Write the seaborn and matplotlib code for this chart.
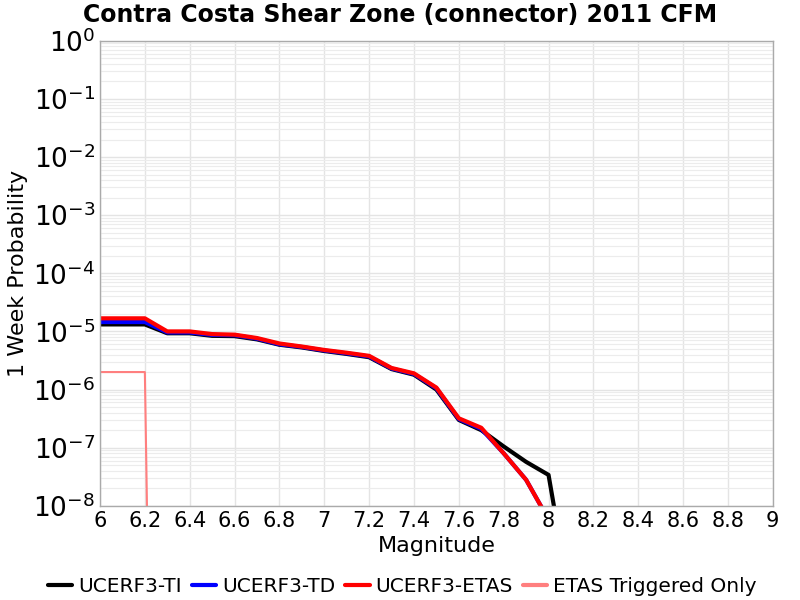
import numpy as np
import pandas as pd
import matplotlib
matplotlib.use("Agg")
import matplotlib.pyplot as plt
import matplotlib.ticker as mticker
import seaborn as sns

# magnitudes (bin centres)
mags = [6.0, 6.1, 6.2, 6.3, 6.4, 6.5, 6.6, 6.7, 6.8, 6.9, 7.0, 7.1, 7.2,
        7.3, 7.4, 7.5, 7.6, 7.7, 7.8, 7.9, 8.0, 8.1]

# 1 week probabilities
ti = [1.32e-5, 1.32e-5, 1.32e-5, 9.3e-6, 9.3e-6, 8.4e-6, 8.3e-6, 7.3e-6, 5.9e-6,
      5.3e-6, 4.6e-6, 4.1e-6, 3.6e-6, 2.25e-6, 1.8e-6, 1.0e-6, 3.0e-7, 2.0e-7,
      1.05e-7, 5.7e-8, 3.4e-8, 2e-10]
td = [1.45e-5, 1.45e-5, 1.45e-5, 9.6e-6, 9.6e-6, 8.7e-6, 8.6e-6, 7.5e-6, 6.0e-6,
      5.4e-6, 4.7e-6, 4.2e-6, 3.7e-6, 2.3e-6, 1.85e-6, 1.05e-6, 3.1e-7, 2.1e-7,
      8.0e-8, 2.8e-8, 5.8e-9, 2e-10]
etas = [1.68e-5, 1.68e-5, 1.68e-5, 1.0e-5, 1.0e-5, 9.0e-6, 8.8e-6, 7.7e-6, 6.2e-6,
        5.5e-6, 4.8e-6, 4.3e-6, 3.8e-6, 2.35e-6, 1.9e-6, 1.08e-6, 3.2e-7, 2.2e-7,
        8.0e-8, 2.8e-8, 5.8e-9, 2e-10]
trig = [2.0e-6, 2.0e-6, 2.0e-6, 1e-30, 1e-30, 1e-30, 1e-30, 1e-30, 1e-30,
        1e-30, 1e-30, 1e-30, 1e-30, 1e-30, 1e-30, 1e-30, 1e-30, 1e-30,
        1e-30, 1e-30, 1e-30, 1e-30]

series = {
    "UCERF3-TI": ti,
    "UCERF3-TD": td,
    "UCERF3-ETAS": etas,
    "ETAS Triggered Only": trig,
}
colors = {"UCERF3-TI": "black", "UCERF3-TD": "blue",
          "UCERF3-ETAS": "red", "ETAS Triggered Only": "#ff7f7f"}
widths = {"UCERF3-TI": 3, "UCERF3-TD": 3, "UCERF3-ETAS": 3,
          "ETAS Triggered Only": 1.5}

sns.set_style("white")
plt.rcParams['font.family'] = ['DejaVu Sans']
plt.rcParams['text.color'] = 'black'
plt.rcParams['axes.labelcolor'] = 'black'
plt.rcParams['xtick.color'] = 'black'
plt.rcParams['ytick.color'] = 'black'

fig = plt.figure(figsize=(8, 6), dpi=100)
ax = fig.add_axes([0.125, 0.157, 0.841, 0.775])

for name, vals in series.items():
    df = pd.DataFrame({"Magnitude": mags, "Prob": vals})
    sns.lineplot(data=df, x="Magnitude", y="Prob", color=colors[name],
                 linewidth=widths[name], label=name, ax=ax)

ax.set_yscale("log")
ax.set_xlim(6, 9)
ax.set_ylim(1e-8, 1)

ax.xaxis.set_major_locator(mticker.MultipleLocator(0.2))
ax.xaxis.set_major_formatter(mticker.FormatStrFormatter("%g"))
ax.yaxis.set_major_locator(mticker.LogLocator(base=10, numticks=20))
ax.yaxis.set_minor_locator(mticker.LogLocator(base=10, subs=np.arange(2, 10), numticks=20))

ax.grid(True, which="major", color="#e4e4e4", linewidth=1)
ax.grid(True, which="minor", axis="y", color="#ececec", linewidth=0.8)
ax.set_axisbelow(True)

ax.tick_params(axis="both", which="both", length=0, labelsize=15)
ax.tick_params(axis="y", labelsize=19)
for s in ax.spines.values():
    s.set_color("#aaaaaa")
    s.set_linewidth(1)

ax.set_xlabel("Magnitude", fontsize=16)
ax.set_ylabel("1 Week Probability", fontsize=16)
fig.suptitle("Contra Costa Shear Zone (connector) 2011 CFM", x=0.5, y=0.995,
             fontsize=17, fontweight="bold")

leg = ax.legend(loc="upper center", bbox_to_anchor=(0.4495, -0.115), ncol=4,
                frameon=False, fontsize=14.5, handlelength=1.2, handletextpad=0.3,
                columnspacing=0.5)
for line in leg.get_lines():
    line.set_linewidth(3)

plt.savefig("out.png", dpi=100)
